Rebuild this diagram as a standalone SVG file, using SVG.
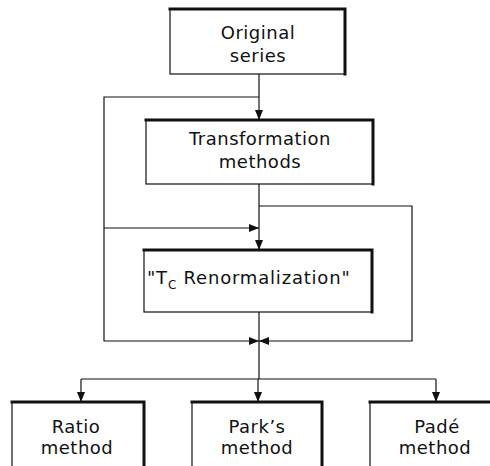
<svg xmlns="http://www.w3.org/2000/svg" width="490" height="466" viewBox="0 0 490 466">
<defs>
<marker id="arr" markerUnits="userSpaceOnUse" markerWidth="10" markerHeight="8" refX="10" refY="4" orient="auto">
<path d="M0,0 L10,4 L0,8 z" fill="#111"/>
</marker>
<style>
.box{fill:#fff;stroke:#111;stroke-width:1.2}
.thick{fill:none;stroke:#111;stroke-width:3;stroke-linecap:square}
.lbl{font-family:"DejaVu Sans",sans-serif;font-size:18px;fill:#111;text-anchor:middle;letter-spacing:0.5px}
.con{fill:none;stroke:#111;stroke-width:1.2}
</style>
</defs>
<rect width="490" height="466" fill="#fff"/>
<g id="connectors">
<path class="con" d="M259,74 V120" marker-end="url(#arr)"/>
<path class="con" d="M259,184 V250" marker-end="url(#arr)"/>
<path class="con" d="M259,97 H104 V341 H259" marker-end="url(#arr)"/>
<path class="con" d="M104,228 H259" marker-end="url(#arr)"/>
<path class="con" d="M259,206 H412 V341 H259" marker-end="url(#arr)"/>
<path class="con" d="M259,312 V379"/>
<path class="con" d="M81,379 H436"/>
<path class="con" d="M81,379 V402" marker-end="url(#arr)"/>
<path class="con" d="M258,379 V402" marker-end="url(#arr)"/>
<path class="con" d="M436,379 V402" marker-end="url(#arr)"/>
</g>
<g id="original">
<rect class="box" x="170" y="9" width="175" height="65"/>
<path class="thick" d="M170,9 H345 V74"/>
<text class="lbl" x="258" y="39">Original</text>
<text class="lbl" x="258" y="62">series</text>
</g>
<g id="transformation">
<rect class="box" x="146" y="120" width="227" height="64"/>
<path class="thick" d="M146,120 H373 V184"/>
<text class="lbl" x="260" y="145">Transformation</text>
<text class="lbl" x="260" y="168">methods</text>
</g>
<g id="renorm">
<rect class="box" x="144" y="250" width="228" height="62"/>
<path class="thick" d="M144,250 H372 V312"/>
<text class="lbl" x="147" y="284" style="text-anchor:start;letter-spacing:0.8px">"T<tspan font-size="12" dy="5">C</tspan><tspan dy="-5"> Renormalization"</tspan></text>
</g>
<g id="ratio">
<rect class="box" x="12" y="402" width="132" height="70"/>
<path class="thick" d="M12,402 H144 V472"/>
<text class="lbl" x="76" y="433">Ratio</text>
<text class="lbl" x="77" y="454">method</text>
</g>
<g id="parks">
<rect class="box" x="192" y="402" width="130" height="70"/>
<path class="thick" d="M192,402 H322 V472"/>
<text class="lbl" x="257" y="433">Park’s</text>
<text class="lbl" x="257" y="454">method</text>
</g>
<g id="pade">
<rect class="box" x="370" y="402" width="132" height="70"/>
<path class="thick" d="M370,402 H502 V472"/>
<text class="lbl" x="437" y="433">Padé</text>
<text class="lbl" x="435" y="454">method</text>
</g>
</svg>
